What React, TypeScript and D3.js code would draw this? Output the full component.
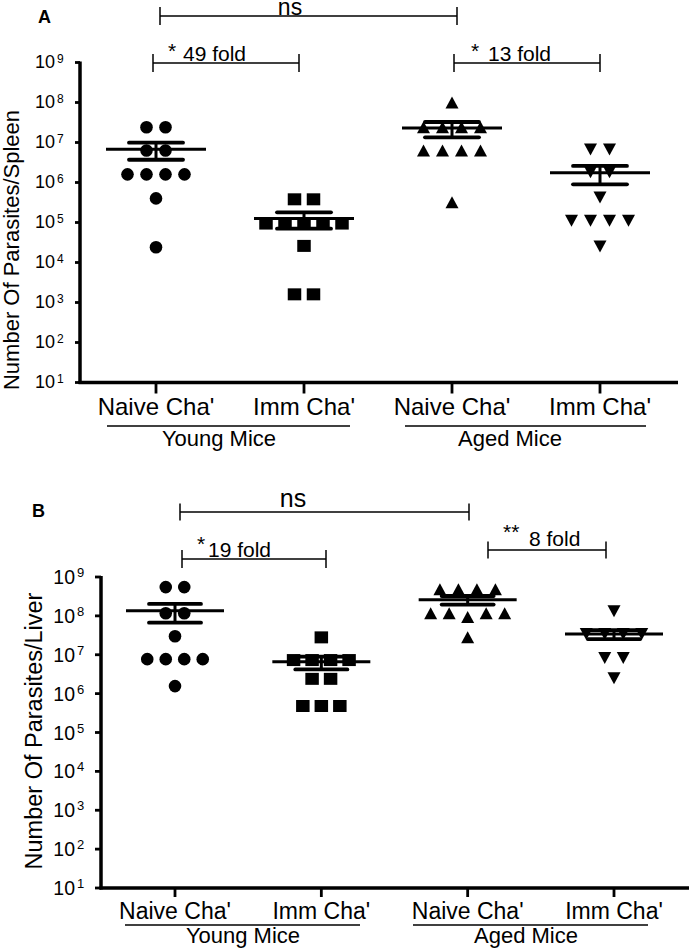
import React from "react";
import * as d3 from "d3";

// ---------------- data ----------------
const categories = ["Naive Cha'", "Imm Cha'", "Naive Cha'", "Imm Cha'"];
const groupNames = ["Young Mice", "Aged Mice"];
const tickExponents = [1, 2, 3, 4, 5, 6, 7, 8, 9];
const symbolKinds = ["circle", "square", "triangleUp", "triangleDown"];

// Panel A : parasites per spleen
const spleenYoungNaive = [2.4e7, 2.4e7, 6.3e6, 6.3e6, 1.6e6, 1.6e6, 1.6e6, 1.6e6, 4.0e5, 2.4e4];
const spleenYoungImm = [3.8e5, 3.8e5, 9.4e4, 9.4e4, 9.4e4, 9.4e4, 9.4e4, 2.6e4, 1.6e3, 1.6e3];
const spleenAgedNaive = [1.0e8, 2.4e7, 2.4e7, 2.4e7, 2.4e7, 6.3e6, 6.3e6, 6.3e6, 6.3e6, 3.2e5];
const spleenAgedImm = [6.7e6, 6.7e6, 1.8e6, 1.8e6, 4.2e5, 1.1e5, 1.1e5, 1.1e5, 1.1e5, 2.5e4];
const spleenMean = [6.8e6, 1.25e5, 2.3e7, 1.75e6];
const spleenSem = [3.1e6, 5.5e4, 9.5e6, 0.85e6];
const spleenComparisons = ["ns", "49 fold", "13 fold"];
const spleenStars = ["", "*", "*"];
const spleenTitle = "Number Of Parasites/Spleen";

// Panel B : parasites per liver
const liverYoungNaive = [5.5e8, 5.5e8, 1.17e8, 1.17e8, 3.0e7, 7.7e6, 7.7e6, 7.7e6, 7.7e6, 1.56e6];
const liverYoungImm = [2.8e7, 7.3e6, 7.3e6, 7.3e6, 7.3e6, 2.4e6, 2.4e6, 4.8e5, 4.8e5, 4.8e5];
const liverAgedNaive = [4.85e8, 4.85e8, 4.85e8, 4.85e8, 1.17e8, 1.17e8, 9.3e7, 1.17e8, 1.17e8, 2.8e7];
const liverAgedImm = [1.32e8, 3.4e7, 3.4e7, 3.4e7, 3.4e7, 8.2e6, 8.2e6, 2.5e6];
const liverMean = [1.35e8, 6.6e6, 2.6e8, 3.4e7];
const liverSem = [6.8e7, 2.4e6, 6.5e7, 8.8e6];
const liverComparisons = ["ns", "19 fold", "8 fold"];
const liverStars = ["", "*", "**"];
const liverTitle = "Number Of Parasites/Liver";

const FONT = "'Liberation Sans', Arial, Helvetica, sans-serif";

// ---------------- layout ----------------
const layoutA = {
  letter: "A", letterX: 38, letterY: 23,
  yTop: 62.5, yBottom: 382.5, axisX: 80, xAxisEnd: 678, x0: 156, x3: 600,
  yTickLen: 5, xTickLen: 11,
  tenRight: 55, tenSize: 18, tenDy: 5.5, supX: 57, supSize: 12, supDy: 0,
  titleX: 19, titleY: 250, titleSize: 22,
  catBaseline: 415, catSize: 24,
  underlineY: 426, underlines: [[107, 350], [405, 646]], groupBaseline: 446, groupCenters: [219, 510], groupSize: 22,
  brackets: [
    { y: 16, x1: 160, x2: 457, half: 9, labelX: 290, labelY: 15, labelSize: 23, starX: 0, starY: 0 },
    { y: 63, x1: 153, x2: 299, half: 9, labelX: 183, labelY: 61, labelSize: 21, starX: 168, starY: 57.5 },
    { y: 63, x1: 454, x2: 600, half: 9, labelX: 488, labelY: 61, labelSize: 21, starX: 471, starY: 57.5 },
  ],
  spacing: 19, meanHalf: 50, semHalf: 27,
};

const layoutB = {
  letter: "B", letterX: 32, letterY: 517,
  yTop: 577, yBottom: 888, axisX: 101, xAxisEnd: 689, x0: 175, x3: 614,
  yTickLen: 6, xTickLen: 9,
  tenRight: 75, tenSize: 19.5, tenDy: 7, supX: 77, supSize: 13, supDy: 0,
  titleX: 42, titleY: 731, titleSize: 23.5,
  catBaseline: 919, catSize: 23,
  underlineY: 925, underlines: [[125, 360], [413, 648]], groupBaseline: 943, groupCenters: [243, 526], groupSize: 22,
  brackets: [
    { y: 512, x1: 180, x2: 469, half: 8.5, labelX: 293, labelY: 507, labelSize: 25, starX: 0, starY: 0 },
    { y: 559, x1: 182, x2: 326, half: 9, labelX: 208, labelY: 557, labelSize: 21, starX: 197, starY: 551 },
    { y: 550, x1: 488, x2: 606, half: 8.5, labelX: 529, labelY: 546, labelSize: 21, starX: 503, starY: 539 },
  ],
  spacing: 18.5, meanHalf: 49, semHalf: 26,
};

const symbolSize = { r: 6.3, w: 13, h: 12, sqW: 13.5, sqH: 12 };

function symbolPath(kind: string, x: number, y: number) {
  const p = d3.path();
  const s = symbolSize;
  if (kind === "circle") {
    p.moveTo(x + s.r, y);
    p.arc(x, y, s.r, 0, 2 * Math.PI);
  } else if (kind === "square") {
    p.rect(x - s.sqW / 2, y - s.sqH / 2, s.sqW, s.sqH);
  } else if (kind === "triangleUp") {
    p.moveTo(x - s.w / 2, y + s.h / 2);
    p.lineTo(x + s.w / 2, y + s.h / 2);
    p.lineTo(x, y - s.h / 2);
    p.closePath();
  } else {
    p.moveTo(x - s.w / 2, y - s.h / 2);
    p.lineTo(x + s.w / 2, y - s.h / 2);
    p.lineTo(x, y + s.h / 2);
    p.closePath();
  }
  return p.toString();
}

// arrange points of equal height side by side (scatter-dot layout)
function layoutRows(values: number[], y: (v: number) => number, cx: number, spacing: number) {
  const rows: { idx: number[]; y0: number }[] = [];
  values.forEach((v, i) => {
    const py = y(v);
    const row = rows.find((r) => Math.abs(r.y0 - py) < 8);
    if (row) row.idx.push(i);
    else rows.push({ idx: [i], y0: py });
  });
  const pts: { x: number; y: number }[] = [];
  rows.forEach((r) =>
    r.idx.forEach((i, j) => pts.push({ x: cx + (j - (r.idx.length - 1) / 2) * spacing, y: y(values[i]) }))
  );
  return pts;
}

type Props = {
  L: any;
  series: number[][];
  means: number[];
  sems: number[];
  comparisons: string[];
  stars: string[];
  title: string;
};

function Panel({ L, series, means, sems, comparisons, stars, title }: Props) {
  const y = d3.scaleLog().domain([10, 1e9]).range([L.yBottom, L.yTop]);
  const x = d3.scalePoint<number>().domain([0, 1, 2, 3]).range([L.x0, L.x3]);
  const ticks = tickExponents.map((e) => Math.pow(10, e));
  return (
    <g fontFamily={FONT} fill="#000">
      <text x={L.letterX} y={L.letterY} fontSize={18} fontWeight="bold">{L.letter}</text>

      {/* y axis */}
      <line x1={L.axisX} x2={L.axisX} y1={L.yTop - 1} y2={L.yBottom + 1.5} stroke="#000" strokeWidth={3.5} />
      {ticks.map((t, i) => (
        <g key={"yt" + i}>
          <line x1={L.axisX - L.yTickLen} x2={L.axisX} y1={y(t)} y2={y(t)} stroke="#000" strokeWidth={2.8} />
          <text x={L.tenRight} y={y(t) + L.tenDy} fontSize={L.tenSize} textAnchor="end">10</text>
          <text x={L.supX} y={y(t) + L.supDy} fontSize={L.supSize}>{tickExponents[i]}</text>
        </g>
      ))}
      <text
        transform={`translate(${L.titleX},${L.titleY}) rotate(-90)`}
        fontSize={L.titleSize}
        textAnchor="middle"
      >
        {title}
      </text>

      {/* x axis */}
      <line x1={L.axisX - 1.5} x2={L.xAxisEnd} y1={L.yBottom} y2={L.yBottom} stroke="#000" strokeWidth={3.5} />
      {categories.map((c, i) => (
        <g key={"xt" + i}>
          <line x1={x(i)} x2={x(i)} y1={L.yBottom} y2={L.yBottom + L.xTickLen} stroke="#000" strokeWidth={2.8} />
          <text x={x(i)} y={L.catBaseline} fontSize={L.catSize} textAnchor="middle">{c}</text>
        </g>
      ))}
      {groupNames.map((g, i) => (
        <g key={"gn" + i}>
          <line x1={L.underlines[i][0]} x2={L.underlines[i][1]} y1={L.underlineY} y2={L.underlineY} stroke="#000" strokeWidth={1.6} />
          <text x={L.groupCenters[i]} y={L.groupBaseline} fontSize={L.groupSize} textAnchor="middle">{g}</text>
        </g>
      ))}

      {/* points */}
      {series.map((vals, gi) =>
        layoutRows(vals, y, x(gi) as number, L.spacing).map((p, pi) => (
          <path key={"p" + gi + "-" + pi} d={symbolPath(symbolKinds[gi], p.x, p.y)} fill="#000" />
        ))
      )}

      {/* mean +/- SEM */}
      {means.map((m, gi) => {
        const cx = x(gi) as number;
        const ym = y(m);
        const yu = y(m + sems[gi]);
        const yl = y(m - sems[gi]);
        return (
          <g key={"m" + gi} stroke="#000">
            <line x1={cx} x2={cx} y1={yu} y2={yl} strokeWidth={3} />
            <line x1={cx - L.meanHalf} x2={cx + L.meanHalf} y1={ym} y2={ym} strokeWidth={3} />
            <line x1={cx - L.semHalf} x2={cx + L.semHalf} y1={yu} y2={yu} strokeWidth={3.8} strokeLinecap="round" />
            <line x1={cx - L.semHalf} x2={cx + L.semHalf} y1={yl} y2={yl} strokeWidth={3.8} strokeLinecap="round" />
          </g>
        );
      })}

      {/* comparison brackets */}
      {comparisons.map((c, i) => {
        const b = L.brackets[i];
        return (
          <g key={"b" + i}>
            <line x1={b.x1} x2={b.x2} y1={b.y} y2={b.y} stroke="#000" strokeWidth={1.5} />
            <line x1={b.x1} x2={b.x1} y1={b.y - b.half} y2={b.y + b.half} stroke="#000" strokeWidth={1.5} />
            <line x1={b.x2} x2={b.x2} y1={b.y - b.half} y2={b.y + b.half} stroke="#000" strokeWidth={1.5} />
            {stars[i] ? (
              <text x={b.starX} y={b.starY} fontSize={21}>{stars[i]}</text>
            ) : null}
            <text
              x={b.labelX}
              y={b.labelY}
              fontSize={b.labelSize}
              textAnchor={stars[i] ? "start" : "middle"}
            >
              {c}
            </text>
          </g>
        );
      })}
    </g>
  );
}

export default function App() {
  return (
    <svg
      width={689}
      height={948}
      viewBox="0 0 689 948"
      style={{ position: "absolute", left: 0, top: 0, display: "block", background: "#fff" }}
    >
      <rect x={0} y={0} width={689} height={948} fill="#fff" />
      <Panel
        L={layoutA}
        series={[spleenYoungNaive, spleenYoungImm, spleenAgedNaive, spleenAgedImm]}
        means={spleenMean}
        sems={spleenSem}
        comparisons={spleenComparisons}
        stars={spleenStars}
        title={spleenTitle}
      />
      <Panel
        L={layoutB}
        series={[liverYoungNaive, liverYoungImm, liverAgedNaive, liverAgedImm]}
        means={liverMean}
        sems={liverSem}
        comparisons={liverComparisons}
        stars={liverStars}
        title={liverTitle}
      />
    </svg>
  );
}
